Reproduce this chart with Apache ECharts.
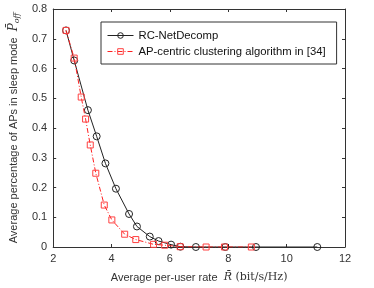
<!DOCTYPE html>
<html><head><meta charset="utf-8">
<script src="https://cdn.jsdelivr.net/npm/echarts@6/dist/echarts.min.js"></script>
<style>html,body{margin:0;padding:0;background:#fff}#c{width:374px;height:288px}</style>
</head><body><div id="c"></div>
<script>
const rcX = [2.44, 2.72, 3.19, 3.49, 3.79, 4.15, 4.60, 4.87, 5.31, 5.61, 6.04, 6.36, 6.89, 7.90, 8.95, 11.05];
const rcY = [0.728, 0.627, 0.460, 0.372, 0.281, 0.196, 0.111, 0.069, 0.035, 0.020, 0.008, 0.001, 0, 0, 0, 0];
const apX = [2.44, 2.72, 2.96, 3.11, 3.27, 3.46, 3.75, 4.01, 4.45, 4.83, 5.44, 5.82, 6.35, 7.24, 7.87, 8.79];
const apY = [0.728, 0.635, 0.504, 0.430, 0.343, 0.248, 0.141, 0.091, 0.043, 0.025, 0.009, 0.006, 0.001, 0, 0, 0];
const seriesNames = ['RC-NetDecomp', 'AP-centric clustering algorithm in [34]'];

const axisCol = '#333';
const font = 'Arial, "Liberation Sans", sans-serif';
const serif = '"DejaVu Serif", "Liberation Serif", serif';
const chart = echarts.init(document.getElementById('c'), null, {renderer: 'canvas'});
const baseAxis = {
  axisLine: {show: true, onZero: false, lineStyle: {color: axisCol, width: 1}},
  axisTick: {show: true, inside: true, length: 3, lineStyle: {color: axisCol}},
  splitLine: {show: false}
};
chart.setOption({
  animation: false,
  grid: {left: 43, right: 29, top: 9, bottom: 40},
  legend: {
    show: true, left: 101, top: 22, orient: 'vertical',
    padding: [8, 11, 7, 6], itemGap: 5,
    borderColor: '#333', borderWidth: 1, backgroundColor: '#fff',
    itemWidth: 26, itemHeight: 7,
    itemStyle: {borderWidth: 1},
    lineStyle: {width: 1},
    textStyle: {fontFamily: font, fontSize: 11.3, color: '#111'},
    data: seriesNames
  },
  xAxis: [Object.assign({}, baseAxis, {
    type: 'value', min: 2, max: 12, interval: 2, position: 'bottom',
    axisLabel: {fontFamily: font, fontSize: 11, color: '#333', margin: 6},
    name: '{t|Average per-user rate  }{i|R̄}{m| (bit/s/Hz)}',
    nameLocation: 'middle', nameGap: 25,
    nameTextStyle: {rich: {
      t: {fontFamily: font, fontSize: 11, color: '#333'},
      i: {fontFamily: serif, fontStyle: 'italic', fontSize: 11, color: '#333'},
      m: {fontFamily: serif, fontSize: 11, color: '#333'}}}
  }), Object.assign({}, baseAxis, {
    type: 'value', min: 2, max: 12, interval: 2, position: 'top',
    axisLabel: {show: false}
  })],
  yAxis: [Object.assign({}, baseAxis, {
    type: 'value', min: 0, max: 0.8, interval: 0.1, position: 'left',
    axisLabel: {fontFamily: font, fontSize: 11, color: '#333', margin: 6,
      formatter: v => (Math.round(v * 10) / 10).toString()},
    name: '{t|Average percentage of APs in sleep mode  }{m|P̄}{s|off}',
    nameLocation: 'middle', nameGap: 28,
    nameTextStyle: {rich: {
      t: {fontFamily: font, fontSize: 11, color: '#333'},
      m: {fontFamily: serif, fontStyle: 'italic', fontSize: 12, color: '#333'},
      s: {fontFamily: serif, fontStyle: 'italic', fontSize: 8, color: '#333', padding: [6, 0, 0, 0]}
    }}
  }), Object.assign({}, baseAxis, {
    type: 'value', min: 0, max: 0.8, interval: 0.1, position: 'right',
    axisLabel: {show: false}
  })],
  series: [{
    name: seriesNames[0], type: 'line', xAxisIndex: 0, yAxisIndex: 0,
    data: rcX.map((x, i) => [x, rcY[i]]),
    symbol: 'circle', symbolSize: 7,
    lineStyle: {color: '#222', width: 1},
    itemStyle: {color: 'rgba(255,255,255,0)', borderColor: '#222', borderWidth: 1},
    z: 2
  }, {
    name: seriesNames[1], type: 'line', xAxisIndex: 0, yAxisIndex: 0,
    data: apX.map((x, i) => [x, apY[i]]),
    symbol: 'rect', symbolSize: 6,
    lineStyle: {color: '#ff2020', width: 1, type: [5, 2, 1, 2]},
    itemStyle: {color: 'rgba(255,255,255,0)', borderColor: '#ff4040', borderWidth: 1},
    z: 3
  }]
});
</script></body></html>
